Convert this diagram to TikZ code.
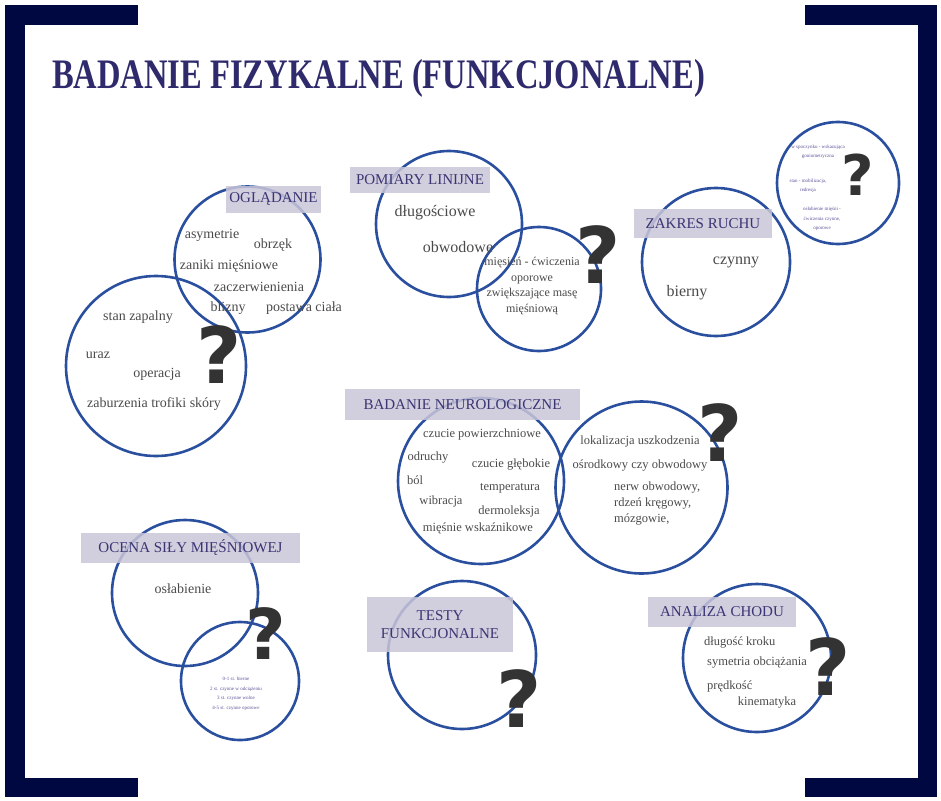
\documentclass[tikz,border=0pt]{standalone}
\usepackage{fontspec}
\setmainfont{Liberation Serif}
\newfontfamily\titlefont{Liberation Serif}[FakeStretch=0.775]
\newfontfamily\qfont{DejaVu Sans}
\usetikzlibrary{positioning}

\definecolor{framec}{HTML}{000842}
\definecolor{titlec}{HTML}{2E2A6B}
\definecolor{circc}{HTML}{2A4F9E}
\definecolor{tagfill}{HTML}{C9C5D8}
\definecolor{tagtext}{HTML}{3A3573}
\definecolor{itemc}{HTML}{4A4A4A}
\definecolor{tinyc}{HTML}{5B5299}
\definecolor{qc}{HTML}{333333}

\begin{document}
\begin{tikzpicture}[
          x=1pt, y=-1pt,
          circ/.style={circle, draw=circc, line width=2.6pt, inner sep=0pt},
          tag/.style={rectangle, fill=tagfill, fill opacity=0.85, text opacity=1, text=tagtext, align=center, inner sep=0pt, font=\fontsize{15}{18}\selectfont},
          item/.style={text=itemc, inner sep=1pt, font=\fontsize{12.5}{14}\selectfont},
          big/.style={item, font=\fontsize{14}{16}\selectfont},
          huge/.style={item, font=\fontsize{16}{18}\selectfont},
          tiny/.style={text=tinyc, align=center, inner sep=0pt, font=\fontsize{5}{9.5}\selectfont},
          qmark/.style={text=qc, inner sep=0pt, font=\qfont\bfseries\fontsize{78}{78}\selectfont}
        ]
          \useasboundingbox (0,0) rectangle (941,800);

          % frame
          \fill[framec] (5,5) rectangle (138,25);
          \fill[framec] (5,5) rectangle (25,797);
          \fill[framec] (5,778) rectangle (138,797);
          \fill[framec] (805,5) rectangle (937,25);
          \fill[framec] (918,5) rectangle (937,797);
          \fill[framec] (805,778) rectangle (937,797);

          \node[anchor=base west, inner sep=0pt, text=titlec, font=\titlefont\bfseries\fontsize{42}{42}\selectfont] (title) at (52,88) {BADANIE FIZYKALNE (FUNKCJONALNE)};

          % circles
          \node[circ, minimum size=146pt] (ogl) at (247.5,259.5) {};
          \node[circ, minimum size=180pt] (wyw) at (156,366) {};
          \node[circ, minimum size=146pt] (pom) at (449,224) {};
          \node[circ, minimum size=124pt] (mas) at (539,289) {};
          \node[circ, minimum size=148pt] (zak) at (716,262) {};
          \node[circ, minimum size=122pt] (zakq) at (838,183) {};
          \node[circ, minimum size=166pt] (neu) at (481,481) {};
          \node[circ, minimum size=172pt] (lok) at (641.5,487.5) {};
          \node[circ, minimum size=146pt] (sil) at (185,593) {};
          \node[circ, minimum size=118pt] (stp) at (240,681) {};
          \node[circ, minimum size=148pt] (tes) at (462,655) {};
          \node[circ, minimum size=148pt] (cho) at (757,658) {};

          % headings
          \node[tag, minimum width=95pt, minimum height=27pt] (oglt) at (273.5,199.5) {OGLĄDANIE};
          \node[tag, minimum width=140pt, minimum height=26pt] (pomt) at (420,180) {POMIARY LINIJNE};
          \node[tag, minimum width=138pt, minimum height=29pt] (zakt) at (703,223.5) {ZAKRES RUCHU};
          \node[tag, minimum width=235pt, minimum height=31pt] (neut) at (462.5,404.5) {BADANIE NEUROLOGICZNE};
          \node[tag, minimum width=219pt, minimum height=30pt] (silt) at (190.5,548) {OCENA SIŁY MIĘŚNIOWEJ};
          \node[tag, minimum width=146pt, minimum height=55pt] (test) at (440,624.5) {TESTY\\FUNKCJONALNE};
          \node[tag, minimum width=148pt, minimum height=30pt] (chot) at (722,612) {ANALIZA CHODU};

          % ogladanie
          \node[big] (asym) at (212,235) {asymetrie};
          \node[big] (obrz) at (273,245) {obrzęk};
          \node[big] (zan) at (229,266) {zaniki mięśniowe};
          \node[big] (zacz) at (259,287) {zaczerwienienia};
          \node[big] (bliz) at (228,308) {blizny};
          \node[big] (post) at (304,308) {postawa ciała};
          \node[big] (stan) at (138,317) {stan zapalny};
          \node[big] (uraz) at (98,355) {uraz};
          \node[big] (oper) at (157,374) {operacja};
          \node[big] (trof) at (154,404) {zaburzenia trofiki skóry};
          \node[qmark] (q1) at (219,355) {?};

          % pomiary
          \node[huge] (dlug) at (435,213) {długościowe};
          \node[huge] (obw) at (458,247) {obwodowe};
          \node[item, align=center, font=\fontsize{12}{15.5}\selectfont] (mies) at (532,286) {mięsień - ćwiczenia\\oporowe\\zwiększające masę\\mięśniową};
          \node[qmark] (q2) at (598,255) {?};

          % zakres ruchu
          \node[huge] (czyn) at (736,262) {czynny};
          \node[huge] (bier) at (687,293) {bierny};
          \node[tiny] (zt1) at (818,152) {w spoczynku - wskazująca\\goniometryczna};
          \node[tiny] (zt2) at (808,186) {stan - mobilizacja,\\redresja};
          \node[tiny] (zt3) at (822,219) {osłabienie mięśni -\\ćwiczenia czynne,\\oporowe};
          \node[qmark, font=\qfont\bfseries\fontsize{56}{56}\selectfont] (q3) at (858,175) {?};

          % neurologiczne
          \node[item] (cpow) at (482,434) {czucie powierzchniowe};
          \node[item] (odr) at (428,458) {odruchy};
          \node[item] (cgl) at (511,465) {czucie głębokie};
          \node[item] (bol) at (415,480) {ból};
          \node[item] (temp) at (510,488) {temperatura};
          \node[item] (wib) at (441,501) {wibracja};
          \node[item] (derm) at (509,511) {dermoleksja};
          \node[item] (wsk) at (478,528) {mięśnie wskaźnikowe};
          \node[item] (uszk) at (640,441) {lokalizacja uszkodzenia};
          \node[item] (osr) at (640,465) {ośrodkowy czy obwodowy};
          \node[item, anchor=west, align=left, font=\fontsize{12.5}{16}\selectfont] (nerw) at (613,504) {nerw obwodowy,\\rdzeń kręgowy,\\mózgowie,};
          \node[qmark] (q4) at (720,433) {?};

          % sila
          \node[big] (osl) at (183,589) {osłabienie};
          \node[tiny] (st) at (236,694) {0-1 st. bierne\\2 st. czynne w odciążeniu\\3 st. czynne wolne\\4-5 st. czynne oporowe};
          \node[qmark, font=\qfont\bfseries\fontsize{70}{70}\selectfont] (q5) at (266,634) {?};

          % testy
          \node[qmark] (q6) at (519,699) {?};

          % chod
          \node[item, anchor=west] (krok) at (703,642) {długość kroku};
          \node[item, anchor=west] (sym) at (706,663) {symetria obciążania};
          \node[item, anchor=west] (pred) at (706,686) {prędkość};
          \node[item] (kin) at (767,703) {kinematyka};
          \node[qmark] (q7) at (828,667) {?};
        \end{tikzpicture}
\end{document}
